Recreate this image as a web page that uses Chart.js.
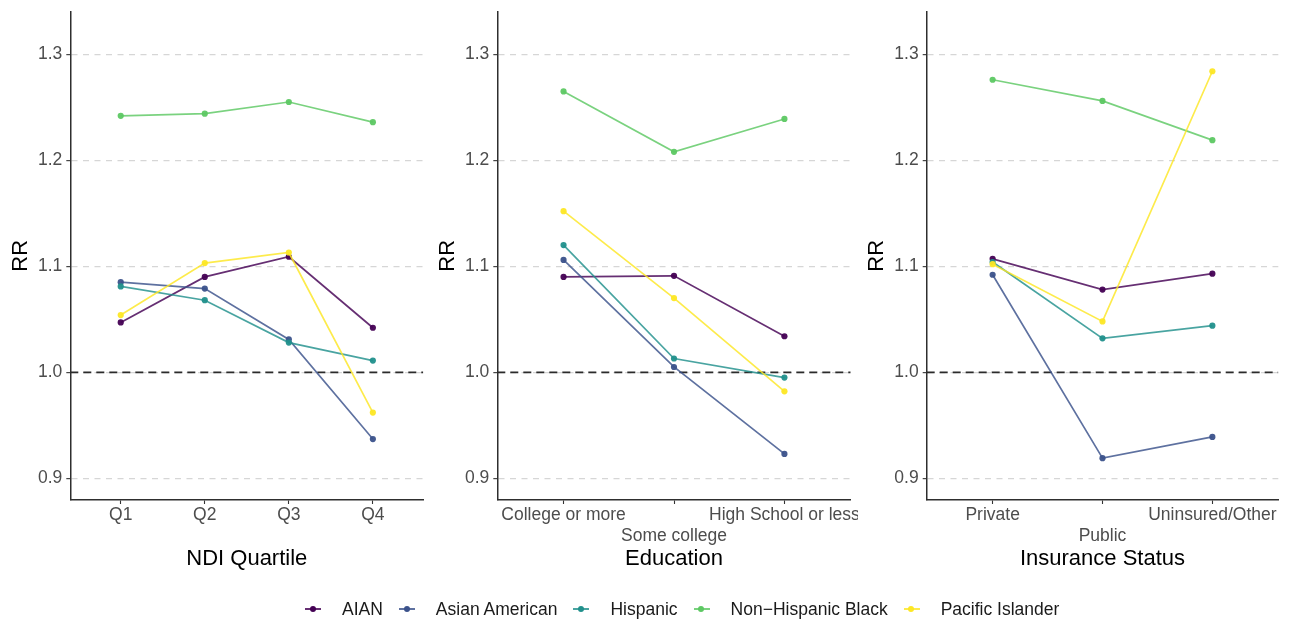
<!DOCTYPE html>
<html>
<head>
<meta charset="utf-8">
<script src="https://cdn.jsdelivr.net/npm/chart.js@4/dist/chart.umd.min.js"></script>
<style>
  html, body { margin: 0; padding: 0; background: #ffffff; }
  #wrap { position: relative; width: 1290px; height: 621px; overflow: hidden; font-family: "Liberation Sans", Arial, sans-serif; }
  canvas { position: absolute; top: 0; }
  #legend { position: absolute; left: 305px; top: 597px; height: 24px; display: flex; align-items: center; white-space: nowrap; }
  .key { position: relative; width: 16px; height: 22px; margin-right: 21px; }
  .key .ln { position: absolute; left: 0; top: 10.2px; width: 16px; height: 1.8px; }
  .key .dt { position: absolute; left: 4.8px; top: 8.1px; width: 6px; height: 6px; border-radius: 50%; }
  .lab { font-size: 17.5px; color: #1a1a1a; margin-right: 16px; line-height: 22px; }
</style>
</head>
<body>
<div id="wrap">
  <canvas id="p1" width="430" height="621" style="left:0px"></canvas>
  <canvas id="p2" width="428" height="621" style="left:430px"></canvas>
  <canvas id="p3" width="432" height="621" style="left:858px"></canvas>
  <div id="legend"></div>
</div>
<script>
// Groups and their colours (viridis, 5 levels)
const groups = ['AIAN', 'Asian American', 'Hispanic', 'Non\u2212Hispanic Black', 'Pacific Islander'];
const groupColors = ['#440154', '#3B528B', '#21908C', '#5DC863', '#FDE725'];

// Y axis
const yTicks = [0.9, 1.0, 1.1, 1.2, 1.3];
const referenceRR = 1.0;

// Panel 1: neighbourhood deprivation index quartile
const ndiCats = ['Q1', 'Q2', 'Q3', 'Q4'];
const ndiAIAN = [1.047, 1.090, 1.109, 1.042];
const ndiAsian = [1.085, 1.079, 1.031, 0.937];
const ndiHispanic = [1.081, 1.068, 1.028, 1.011];
const ndiBlack = [1.242, 1.244, 1.255, 1.236];
const ndiPacific = [1.054, 1.103, 1.113, 0.962];

// Panel 2: education
const eduCats = ['College or more', 'Some college', 'High School or less'];
const eduAIAN = [1.090, 1.091, 1.034];
const eduAsian = [1.106, 1.005, 0.923];
const eduHispanic = [1.120, 1.013, 0.995];
const eduBlack = [1.265, 1.208, 1.239];
const eduPacific = [1.152, 1.070, 0.982];

// Panel 3: insurance status
const insCats = ['Private', 'Public', 'Uninsured/Other'];
const insAIAN = [1.107, 1.078, 1.093];
const insAsian = [1.092, 0.919, 0.939];
const insHispanic = [1.104, 1.032, 1.044];
const insBlack = [1.276, 1.256, 1.219];
const insPacific = [1.102, 1.048, 1.284];

const FONT = '"Liberation Sans", Arial, sans-serif';

function withAlpha(hex, a) {
  const n = parseInt(hex.slice(1), 16);
  return 'rgba(' + ((n >> 16) & 255) + ',' + ((n >> 8) & 255) + ',' + (n & 255) + ',' + a + ')';
}

function makePanel(id, cats, series, xTitle, dodge, box) {
  const n = cats.length;
  const xMin = -0.6, xMax = n - 1 + 0.6;
  const datasets = series.map((vals, g) => ({
    label: groups[g],
    data: vals.map((v, i) => ({ x: i, y: v })),
    borderColor: withAlpha(groupColors[g], 0.82),
    backgroundColor: groupColors[g],
    pointBackgroundColor: withAlpha(groupColors[g], 0.95),
    pointBorderColor: groupColors[g],
    pointBorderWidth: 0,
    pointRadius: 3.1,
    borderWidth: 1.7,
    tension: 0,
    order: series.length - g
  }));
  // horizontal reference line at RR = 1
  datasets.push({
    label: 'ref',
    data: [{ x: xMin, y: referenceRR }, { x: xMax, y: referenceRR }],
    borderColor: '#2b2b2b',
    borderDash: [8, 5],
    borderWidth: 1.7,
    pointRadius: 0,
    order: 20
  });

  return new Chart(document.getElementById(id), {
    type: 'line',
    data: { datasets },
    options: {
      responsive: false,
      animation: false,
      devicePixelRatio: 1,
      layout: { padding: { top: 11.7, left: 0, right: box.right, bottom: 0 } },
      plugins: { legend: { display: false }, tooltip: { enabled: false } },
      scales: {
        x: {
          type: 'linear',
          min: xMin,
          max: xMax,
          afterBuildTicks: (s) => { s.ticks = cats.map((c, i) => ({ value: i })); },
          afterFit: (s) => { s.height = 121; s.paddingLeft = 0; s.paddingRight = 0; },
          grid: { drawOnChartArea: false, drawTicks: true, tickLength: 4, tickColor: '#333333', tickWidth: 1.1 },
          border: { display: true, color: '#2e2e2e', width: 1.5 },
          ticks: {
            autoSkip: false, maxRotation: 0, minRotation: 0, padding: 1,
            color: '#4d4d4d', font: { family: FONT, size: 17.5 },
            callback: (v) => {
              const i = Math.round(v);
              const lab = cats[i];
              return (dodge && i % 2 === 1) ? ['', lab] : lab;
            }
          },
          title: {
            display: true, text: xTitle, color: '#000000',
            font: { family: FONT, size: 22 }, padding: { top: 0, bottom: 48.8 }
          }
        },
        y: {
          type: 'linear',
          min: 0.8795,
          max: 1.3402,
          afterBuildTicks: (s) => { s.ticks = yTicks.map(v => ({ value: v })); },
          afterFit: (s) => { s.width = box.yWidth; s.paddingTop = 0; s.paddingBottom = 0; },
          grid: { color: '#d6d6d6', lineWidth: 1.3, drawTicks: true, tickLength: 4, tickColor: '#333333', tickWidth: 1.1, tickBorderDash: [] },
          border: { display: true, color: '#2e2e2e', width: 1.5, dash: [6, 5.5] },
          ticks: {
            autoSkip: false, padding: 4, color: '#4d4d4d',
            font: { family: FONT, size: 17.5 },
            callback: (v) => Number(v).toFixed(1)
          },
          title: {
            display: true, text: 'RR', color: '#000000',
            font: { family: FONT, size: 22 }, padding: { top: box.yWidth - 62.5, bottom: 0 }
          }
        }
      }
    }
  });
}

makePanel('p1', ndiCats, [ndiAIAN, ndiAsian, ndiHispanic, ndiBlack, ndiPacific], 'NDI Quartile', false, { yWidth: 70.3, right: 6.7 });
makePanel('p2', eduCats, [eduAIAN, eduAsian, eduHispanic, eduBlack, eduPacific], 'Education', true, { yWidth: 67.3, right: 7.3 });
makePanel('p3', insCats, [insAIAN, insAsian, insHispanic, insBlack, insPacific], 'Insurance Status', true, { yWidth: 68.7, right: 11.7 });

// Legend built from the group names and colours
const legend = document.getElementById('legend');
groups.forEach((g, i) => {
  const key = document.createElement('div');
  key.className = 'key';
  const ln = document.createElement('div');
  ln.className = 'ln';
  ln.style.background = withAlpha(groupColors[i], 0.82);
  const dt = document.createElement('div');
  dt.className = 'dt';
  dt.style.background = groupColors[i];
  key.appendChild(ln);
  key.appendChild(dt);
  const lab = document.createElement('span');
  lab.className = 'lab';
  lab.textContent = g;
  legend.appendChild(key);
  legend.appendChild(lab);
});
</script>
</body>
</html>
